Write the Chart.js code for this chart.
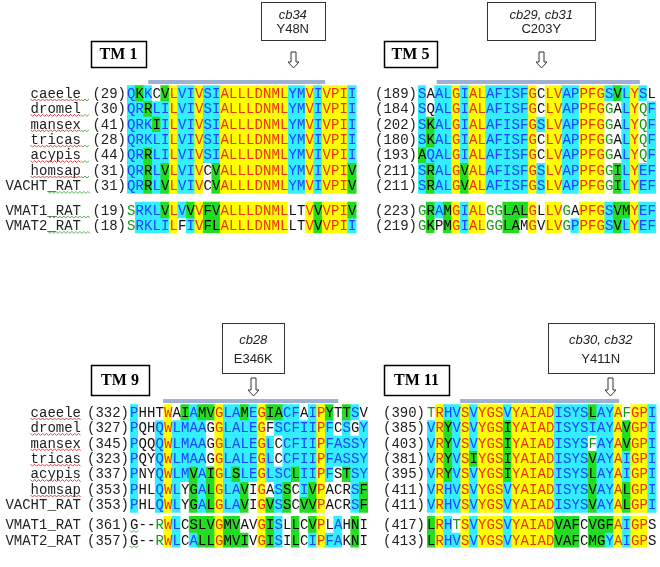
<!DOCTYPE html>
<html>
<head>
<meta charset="utf-8">
<script src="https://cdn.jsdelivr.net/npm/chart.js@4.4.1/dist/chart.umd.min.js"></script>
<style>
  body { margin: 0; background: #fff; }
  #wrap { position: relative; width: 660px; height: 567px; overflow: hidden; background: #fff; }
  canvas { position: absolute; }
</style>
</head>
<body>
<div id="wrap">
  <canvas id="tm1" width="370" height="240" style="left:0px;top:0px"></canvas>
  <canvas id="tm5" width="290" height="240" style="left:370px;top:0px"></canvas>
  <canvas id="tm9" width="378" height="267" style="left:0px;top:300px"></canvas>
  <canvas id="tm11" width="282" height="267" style="left:378px;top:300px"></canvas>
</div>
<script>
// noms des séquences (mêmes lignes dans les 4 blocs)
const names = ['caeele', 'dromel', 'mansex', 'tricas', 'acypis', 'homsap', 'VACHT_RAT', 'VMAT1_RAT', 'VMAT2_RAT'];

// TM 1
const tm1Start = [29, 30, 41, 28, 44, 31, 31, 19, 18];
const tm1Seq = [
  'QKKCVLVIVSIALLLDNMLYMVIVPII',
  'QRRLILVIVSIALLLDNMLYMVIVPII',
  'QRKIILVIVSIALLLDNMLYMVIVPII',
  'QRKLILVIVSIALLLDNMLYMVIVPII',
  'QRRLILVIVSIALLLDNMLYMVIVPII',
  'QRRLVLVIVCVALLLDNMLYMVIVPIV',
  'QRRLVLVIVCVALLLDNMLYMVIVPIV',
  'SRKLVLVVVFVALLLDNMLLTVVVPIV',
  'SRKLILFIVFLALLLDNMLLTVVVPII'
];
// Y = identique, C = conservé, G = similaire, W = non similaire, T = faiblement similaire
const tm1Col = [
  'CGCWGYCCYCCYYYYYYYYCCYCYYYC',
  'CCGCCYCCYCCYYYYYYYYCCYCYYYC',
  'CCCGCYCCYCCYYYYYYYYCCYCYYYC',
  'CCCCCYCCYCCYYYYYYYYCCYCYYYC',
  'CCGCCYCCYCCYYYYYYYYCCYCYYYC',
  'CCGCGYCCYWGYYYYYYYYCCYCYYYG',
  'CCGCGYCCYWGYYYYYYYYCCYCYYYG',
  'TCCCGYCGYGGYYYYYYYYWWYGYYYG',
  'TCCCCYWCYGGYYYYYYYYWWYGYYYC'
];

// TM 5
const tm5Start = [189, 184, 202, 180, 193, 211, 211, 223, 219];
const tm5Seq = [
  'SAALGIALAFISFGCLVAPPFGSVLYSL',
  'SQALGIALAFISFGCLVAPPFGGALYQF',
  'SKALGIALAFISFGSLVAPPFGGALYQF',
  'SKALGIALAFISFGCLVAPPFGGALYQF',
  'AQALGIALAFISFGCLVAPPFGGALYQF',
  'SRALGVALAFISFGSLVAPPFGGILYEF',
  'SRALGVALAFISFGSLVAPPFGGILYEF',
  'GRAMGIALGGLALGLLVGAPFGSVMYEF',
  'GKPMGIALGGLAMGVLVGPPFGSVLYEF'
];
const tm5Col = [
  'CWCCYCYYCCCCCYWYYCCYYYCGCYCW',
  'CWCCYCYYCCCCCYWYYCCYYYTWCYTC',
  'CGCCYCYYCCCCCYCYYCCYYYTWCYTC',
  'CGCCYCYYCCCCCYWYYCCYYYTWCYTC',
  'GCCCYCYYCCCCCYWYYCCYYYTWCYTC',
  'CGCCYGYYCCCCCYCYYCCYYYTGCYCC',
  'CGCCYGYYCCCCCYCYYCCYYYTGCYCC',
  'TGCGYCYYTTGGGYWYYTWYYYCGGYCC',
  'TGWGYCYYTTGGWYWYYTCYYYCGCYCC'
];

// TM 9
const tm9Start = [332, 327, 345, 323, 337, 353, 353, 361, 357];
const tm9Seq = [
  'PHHTWAIAMVGLAMEGIACFAIPYTTSV',
  'PQHQWLMAAGGLALEGFSCFIIPFCSGY',
  'PQQQWLMAAGGLALEGLCCFIIPFASSY',
  'PQYQWLMAAGGLALEGLCCFIIPFASSY',
  'PNYQWLMVAIGLSLEGLSCLIIPFSTSY',
  'PHLQWLYGALGLAVIGASSCIVPACRSF',
  'PHLQWLYGALGLAVIGVSSCVVPACRSF',
  'G--RWLCSLVGMVAVGISLLCVPLAHNI',
  'G--RWLCALLGMVIVGISILCIPFAKNI'
];
const tm9Col = [
  'CWWWYWGCGGYCCGCYGGCCWCYGWGCW',
  'CWWCYCCCCWYCCCCYWCCCCCYCWCWC',
  'CWWCYCCCCWYCCCCYCWCCCCYCCCCC',
  'CWWCYCCCCWYCCCCYCWCCCCYCCCCC',
  'CWWCYCCGCGYCGCCYCCCGCCYCWGCC',
  'CWWCYCWGCGYCCGWYWCGWCGYWWWCG',
  'CWWCYCWGCGYCCGWYGCGWGGYWWWCG',
  'WWWTYCWGGGYGGWWYGCWGWGYWCWGW',
  'WWWTYCWCGGYGGGWYGCWGWCYCCWGW'
];

// TM 11
const tm11Start = [390, 385, 403, 381, 395, 411, 411, 417, 413];
const tm11Seq = [
  'TRHVSVYGSVYAIADISYSLAYAFGPI',
  'VRYVSVYGSIYAIADISYSIAYAVGPI',
  'VRYVSVYGSIYAIADISYSFAYAVGPI',
  'VRYVSIYGSIYAIADISYSVAYAIGPI',
  'VRYVSVYGSIYAIADISYSLAYAIGPI',
  'VRHVSVYGSVYAIADISYSVAYALGPI',
  'VRHVSVYGSVYAIADISYSVAYALGPI',
  'LRHTSVYGSVYAIADVAFCVGFAIGPS',
  'LRHVSVYGSVYAIADVAFCMGYAIGPS'
];
const tm11Col = [
  'TYCCYCYYYCYYYYYCCCCGCCYTYYC',
  'CYGCYCYYYGYYYYYCCCCCCCYGYYC',
  'CYGCYCYYYGYYYYYCCCCTCCYGYYC',
  'CYGCYGYYYGYYYYYCCCCGCCYCYYC',
  'CYGCYCYYYGYYYYYCCCCGCCYCYYC',
  'CYCCYCYYYCYYYYYCCCCGCCYGYYC',
  'CYCCYCYYYCYYYYYCCCCGCCYGYYC',
  'GYCTYCYYYCYYYYYGGGWGGGYCYYW',
  'GYCCYCYYYCYYYYYGGGWGGCYCYYW'
];

// couleurs du schéma d'alignement
const BG = { Y: '#ffff00', C: '#33eeff', G: '#22dd22', W: '#ffffff', T: '#ffffff' };
const FG = { Y: '#f0300c', C: '#1a44ff', G: '#000000', W: '#111111', T: '#149914' };

const ROW = 15.4;        // hauteur d'une ligne (px)
const CELL = 8.5;        // largeur d'un caractère (px)
const rowPos = (r, gap) => (r < 7 ? r : r + gap);

const panels = [
  { id: 'tm1', seq: tm1Seq, col: tm1Col, start: tm1Start, left: 0, top: 0, w: 370, h: 240, gap: 0.6,
    seqLeft: 127, rowTop: 93, names: true, numRight: 126, label: 'TM 1', box: [91, 41, 146, 67],
    mut: ['cb34', 'Y48N'], mutCol: 19, mutShift: 0, mutBox: [2, 40], mutW: 64, arrow: [52, 68], bar: [2.5, 23.3], barY: 80 },
  { id: 'tm5', seq: tm5Seq, col: tm5Col, start: tm5Start, left: 370, top: 0, w: 290, h: 240, gap: 0.6,
    seqLeft: 418, rowTop: 93, names: false, numRight: 417, label: 'TM 5', box: [384, 41, 437, 67],
    mut: ['cb29, cb31', 'C203Y'], mutCol: 14, mutShift: 0, mutBox: [2, 40], mutW: 108, arrow: [52, 68], bar: [2.2, 26.1], barY: 80 },
  { id: 'tm9', seq: tm9Seq, col: tm9Col, start: tm9Start, left: 0, top: 300, w: 378, h: 267, gap: 0.3,
    seqLeft: 130, rowTop: 412, names: true, numRight: 129, label: 'TM 9', box: [91, 365, 149, 395],
    mut: ['cb28', 'E346K'], mutCol: 14, mutShift: 0, mutBox: [323, 373], mutW: 62, arrow: [378, 396], bar: [3.9, 24.5], barY: 399, gWavy: true },
  { id: 'tm11', seq: tm11Seq, col: tm11Col, start: tm11Start, left: 378, top: 300, w: 282, h: 267, gap: 0.3,
    seqLeft: 427, rowTop: 412, names: false, numRight: 425, label: 'TM 11', box: [384, 365, 449, 395],
    mut: ['cb30, cb32', 'Y411N'], mutCol: 21, mutShift: -9, mutBox: [323, 373], mutW: 106, arrow: [378, 396], bar: [3.9, 22.6], barY: 399 }
];

// petite ligne ondulée (soulignement du correcteur)
function wavy(ctx, x0, x1, y, color) {
  ctx.beginPath();
  ctx.strokeStyle = color;
  ctx.lineWidth = 1;
  let i = 0;
  for (let x = x0; x <= x1; x += 2, i++) {
    const yy = y + (i % 2 ? 1 : -1);
    if (i === 0) ctx.moveTo(x, yy); else ctx.lineTo(x, yy);
  }
  ctx.stroke();
}

function makePlugin(p) {
  return {
    id: 'align_' + p.id,
    afterDatasetsDraw(chart) {
      const ctx = chart.ctx;
      const xs = chart.scales.x, ys = chart.scales.y;
      const X = v => v - p.left, Y = v => v - p.top;
      ctx.save();

      // lettres de l'alignement
      ctx.font = '14px "Liberation Mono"';
      ctx.textAlign = 'center';
      ctx.textBaseline = 'middle';
      chart.data.datasets.forEach((ds, r) => {
        chart.getDatasetMeta(r).data.forEach((el, c) => {
          ctx.fillStyle = FG[p.col[r][c]];
          ctx.fillText(p.seq[r][c], (el.x + el.base) / 2, el.y + 1);
        });
      });

      // noms et numéros de départ
      p.seq.forEach((s, r) => {
        const y = ys.getPixelForValue(rowPos(r, p.gap));
        ctx.textAlign = 'right';
        ctx.fillStyle = '#222';
        ctx.fillText('(' + p.start[r] + ')', X(p.numRight), y + 1);
        if (p.names) {
          const nx = X(81);
          const nw = ctx.measureText(names[r]).width;
          ctx.fillText(names[r], nx, y + 1);
          if (r < 6) wavy(ctx, nx - nw, nx, y + 7, '#e04040');
          if (!p.gWavy) {
            const gx0 = r < 6 ? nx : nx - nw + 5 * CELL;
            wavy(ctx, gx0, X(p.numRight) - 4 * CELL - 2, y + 7, '#5aa85a');
          }
          if (p.gWavy && r >= 7) wavy(ctx, xs.getPixelForValue(0), xs.getPixelForValue(1), y + 7, '#5aa85a');
        }
      });

      // barre au-dessus du segment transmembranaire
      ctx.fillStyle = '#9fb1d2';
      const bx0 = xs.getPixelForValue(p.bar[0]), bx1 = xs.getPixelForValue(p.bar[1]);
      ctx.fillRect(bx0, Y(p.barY), bx1 - bx0, 4);

      // boîte "TM n"
      ctx.strokeStyle = '#000';
      ctx.lineWidth = 1.5;
      ctx.fillStyle = '#fff';
      const [b0, b1, b2, b3] = p.box;
      ctx.fillRect(X(b0), Y(b1), b2 - b0, b3 - b1);
      ctx.strokeRect(X(b0) + 0.5, Y(b1) + 0.5, b2 - b0, b3 - b1);
      ctx.fillStyle = '#000';
      ctx.font = 'bold 16px "Liberation Serif"';
      ctx.textAlign = 'center';
      ctx.fillText(p.label, X((b0 + b2) / 2), Y((b1 + b3) / 2) + 1);

      // boîte de la mutation, au-dessus de la colonne mutée
      const mx = xs.getPixelForValue(p.mutCol + 0.5);
      const bc = mx + p.mutShift;
      const [m0, m1] = p.mutBox;
      ctx.lineWidth = 1;
      ctx.strokeStyle = '#333';
      ctx.strokeRect(Math.round(bc - p.mutW / 2) + 0.5, Y(m0) + 0.5, p.mutW, m1 - m0);
      ctx.fillStyle = '#222';
      ctx.font = 'italic 13px "Liberation Sans"';
      ctx.fillText(p.mut[0], bc, Y(m0 + (m1 - m0) * 0.34));
      ctx.font = '13px "Liberation Sans"';
      ctx.fillText(p.mut[1], bc, Y(m0 + (m1 - m0) * 0.72));

      // flèche creuse vers le bas
      const [a0, a1] = p.arrow;
      const ax = Math.round(mx) + 0.5;
      ctx.beginPath();
      ctx.moveTo(ax - 2.5, Y(a0));
      ctx.lineTo(ax + 2.5, Y(a0));
      ctx.lineTo(ax + 2.5, Y(a1 - 6));
      ctx.lineTo(ax + 5.5, Y(a1 - 6));
      ctx.lineTo(ax, Y(a1));
      ctx.lineTo(ax - 5.5, Y(a1 - 6));
      ctx.lineTo(ax - 2.5, Y(a1 - 6));
      ctx.closePath();
      ctx.fillStyle = '#fff';
      ctx.fill();
      ctx.strokeStyle = '#333';
      ctx.stroke();

      ctx.restore();
    }
  };
}

panels.forEach(p => {
  const ncols = p.seq[0].length;
  const rows = p.seq.map((s, r) => rowPos(r, p.gap));
  const last = rowPos(p.seq.length - 1, p.gap);
  const areaH = (last + 1) * ROW;
  const padTop = p.rowTop - ROW / 2 - p.top;
  const padLeft = p.seqLeft - p.left;

  new Chart(document.getElementById(p.id), {
    type: 'bar',
    data: {
      datasets: p.seq.map((s, r) => ({
        data: s.split('').map((ch, c) => ({ x: [c, c + 1], y: rowPos(r, p.gap) })),
        backgroundColor: p.col[r].split('').map(k => BG[k]),
        grouped: false,
        barPercentage: 1,
        categoryPercentage: 1,
        borderWidth: 0,
        inflateAmount: 0.6
      }))
    },
    options: {
      indexAxis: 'y',
      responsive: false,
      animation: false,
      events: [],
      layout: {
        padding: {
          left: padLeft,
          right: p.w - padLeft - ncols * CELL,
          top: padTop,
          bottom: p.h - padTop - areaH
        }
      },
      plugins: { legend: { display: false }, tooltip: { enabled: false } },
      scales: {
        x: { type: 'linear', min: 0, max: ncols, display: false },
        y: {
          type: 'linear', reverse: true, display: false, offset: false,
          min: -0.5, max: last + 0.5,
          afterBuildTicks: ax => { ax.ticks = rows.map(v => ({ value: v })); }
        }
      }
    },
    plugins: [makePlugin(p)]
  });
});
</script>
</body>
</html>
